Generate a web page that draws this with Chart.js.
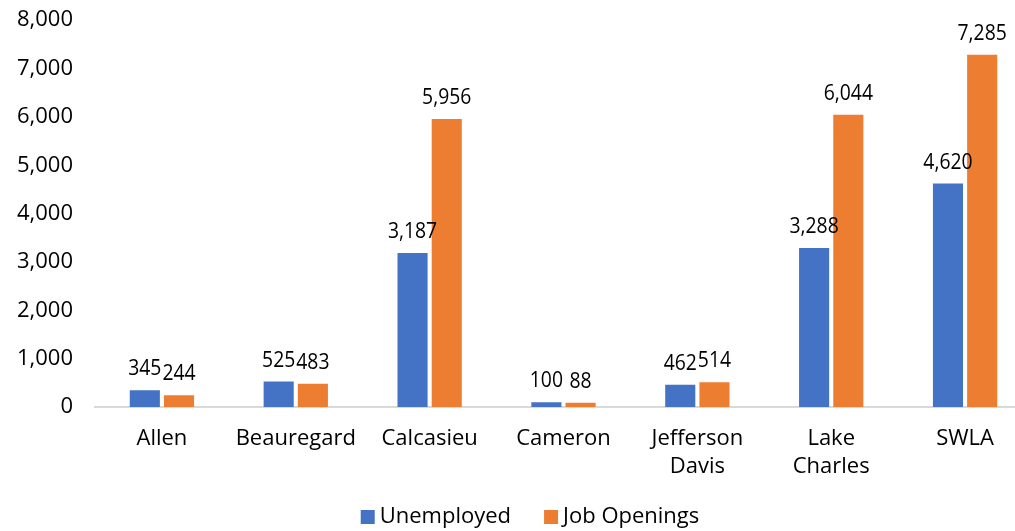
<!DOCTYPE html>
<html>
<head>
<meta charset="utf-8">
<script src="https://cdn.jsdelivr.net/npm/chart.js@4/dist/chart.umd.min.js"></script>
<style>
  html, body { margin: 0; padding: 0; background: #ffffff; overflow: hidden; }
  #wrap { width: 1032px; height: 546px; position: absolute; left: 0; top: -15px; }
</style>
</head>
<body>
<div id="wrap"><canvas id="c"></canvas></div>
<script>
const categories = ['Allen', 'Beauregard', 'Calcasieu', 'Cameron', ['Jefferson', 'Davis'], ['Lake', 'Charles'], 'SWLA'];
const unemployed = [345, 525, 3187, 100, 462, 3288, 4620];
const jobOpenings = [244, 483, 5956, 88, 514, 6044, 7285];
const seriesNames = ['Unemployed', 'Job Openings'];
const yTicks = [0, 1000, 2000, 3000, 4000, 5000, 6000, 7000, 8000];

const FONT = '"Open Sans", "Noto Sans", sans-serif';
const COLORS = ['#4472C4', '#ED7D31'];

const valueLabels = {
  id: 'valueLabels',
  afterDatasetsDraw(chart) {
    const ctx = chart.ctx;
    chart.data.datasets.forEach((ds, i) => {
      const meta = chart.getDatasetMeta(i);
      meta.data.forEach((bar, j) => {
        ctx.save();
        ctx.font = '22px ' + FONT;
        ctx.fillStyle = '#000000';
        ctx.textAlign = 'center';
        ctx.textBaseline = 'alphabetic';
        ctx.translate(bar.x, bar.y - 15);
        ctx.scale(0.88, 1);
        ctx.fillText(ds.data[j].toLocaleString('en-US'), 0, 0);
        ctx.restore();
      });
    });
  }
};

// bottom legend: square swatch + label, group centred under the chart
const bottomLegend = {
  id: 'bottomLegend',
  afterDraw(chart) {
    const ctx = chart.ctx;
    ctx.save();
    ctx.font = '22px ' + FONT;
    ctx.textBaseline = 'middle';
    ctx.textAlign = 'left';
    const box = 14, gap = 5, spacing = 33, centerX = 530, centerY = 532;
    const items = chart.data.datasets.map(ds => ({ text: ds.label, color: ds.backgroundColor, w: box + gap + ctx.measureText(ds.label).width }));
    const total = items.reduce((s, it) => s + it.w, 0) + spacing * (items.length - 1);
    let x = centerX - total / 2;
    items.forEach(it => {
      ctx.fillStyle = it.color;
      ctx.fillRect(x, centerY - box / 2, box, box);
      ctx.fillStyle = '#000000';
      ctx.fillText(it.text, x + box + gap, centerY);
      x += it.w + spacing;
    });
    ctx.restore();
  }
};

new Chart(document.getElementById('c'), {
  type: 'bar',
  data: {
    labels: categories,
    datasets: [
      { label: seriesNames[0], data: unemployed, backgroundColor: COLORS[0], barPercentage: 0.88, categoryPercentage: 0.511 },
      { label: seriesNames[1], data: jobOpenings, backgroundColor: COLORS[1], barPercentage: 0.88, categoryPercentage: 0.511 }
    ]
  },
  options: {
    responsive: true,
    maintainAspectRatio: false,
    animation: false,
    layout: { padding: { top: 0, left: 0, right: 0, bottom: 44 } },
    plugins: {
      legend: { display: false },
      tooltip: { enabled: false }
    },
    scales: {
      x: {
        afterFit(scale) { scale.height = 80; },
        grid: { display: false, drawTicks: false },
        border: { display: true, color: '#d9d9d9', width: 2 },
        ticks: { font: { family: FONT, size: 22, lineHeight: 1.27 }, color: '#000000', padding: 18, maxRotation: 0, autoSkip: false }
      },
      y: {
        min: 0, max: 8000,
        afterBuildTicks(scale) { scale.ticks = yTicks.map(v => ({ value: v })); },
        afterFit(scale) { scale.width = 95; },
        grid: { display: false, drawTicks: false },
        border: { display: false },
        ticks: {
          font: { family: FONT, size: 22 }, color: '#000000', padding: 22,
          callback: v => v.toLocaleString('en-US')
        }
      }
    }
  },
  plugins: [valueLabels, bottomLegend]
});
</script>
</body>
</html>
